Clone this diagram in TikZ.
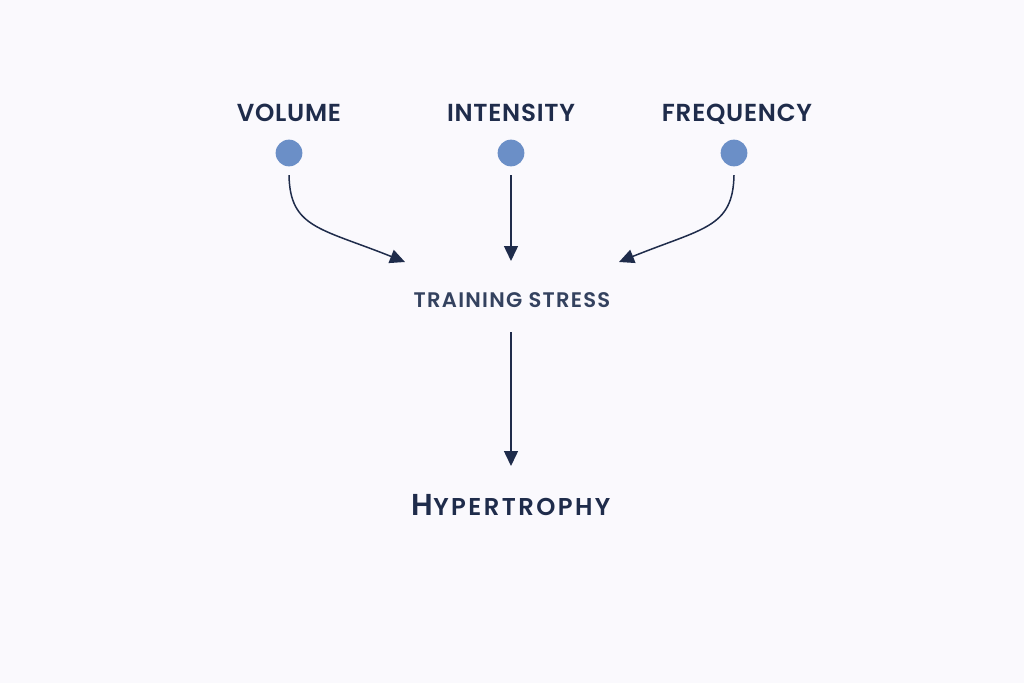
\documentclass[tikz,border=0pt]{standalone}
\usepackage{fontspec}
\setmainfont{Poppins}
\newfontfamily\semibold{Poppins SemiBold}
\usetikzlibrary{arrows.meta}
\definecolor{navy}{HTML}{1F2C4B}
\definecolor{slate}{HTML}{34425F}
\definecolor{dotblue}{HTML}{6B8FC7}
\definecolor{paper}{HTML}{FAF9FD}
\tikzset{
  factor/.style={anchor=base, text=navy, font=\fontsize{17.5}{17.5}\selectfont\semibold\addfontfeatures{LetterSpace=3}},
  dot/.style={circle, fill=dotblue, minimum size=19, inner sep=0pt},
  arr/.style={-{Triangle[length=15*0.025cm, width=14*0.025cm]}, draw=navy, line width=1.5*0.025cm}
}

\begin{document}
\begin{tikzpicture}[x=0.025cm, y=-0.025cm]
\fill[paper] (0,0) rectangle (1024,683);
% inputs
\node[factor] (volume) at (289,121) {VOLUME};
\node[factor] (intensity) at (511,121) {INTENSITY};
\node[factor] (frequency) at (737,121) {FREQUENCY};
\node[dot] (dvol) at (289,153) {};
\node[dot] (dint) at (511,153) {};
\node[dot] (dfreq) at (734,153) {};
% middle and result
\node[anchor=base, text=slate, font=\fontsize{15}{15}\selectfont\semibold\addfontfeatures{LetterSpace=6}] (stress) at (512,307) {TRAINING STRESS};
\node[anchor=base, text=navy, font=\semibold\addfontfeatures{LetterSpace=10}] (hyper) at (511,515)
  {\fontsize{21.5}{21.5}\selectfont H\fontsize{17.3}{17.3}\selectfont YPERTROPHY};
\coordinate (inL) at (405,262);
\coordinate (inM) at (511,261);
\coordinate (inR) at (619,262);
\coordinate (outS) at (511,332);
\coordinate (inH) at (511,466);
% arrows
\draw[arr] ([yshift=-6]dvol.south) .. controls (290,228) and (320,228) .. (inL);
\draw[arr] ([yshift=-6]dint.south) -- (inM);
\draw[arr] ([yshift=-6]dfreq.south) .. controls (733,228) and (703,228) .. (inR);
\draw[arr] (outS) -- (inH);
\end{tikzpicture}
\end{document}
